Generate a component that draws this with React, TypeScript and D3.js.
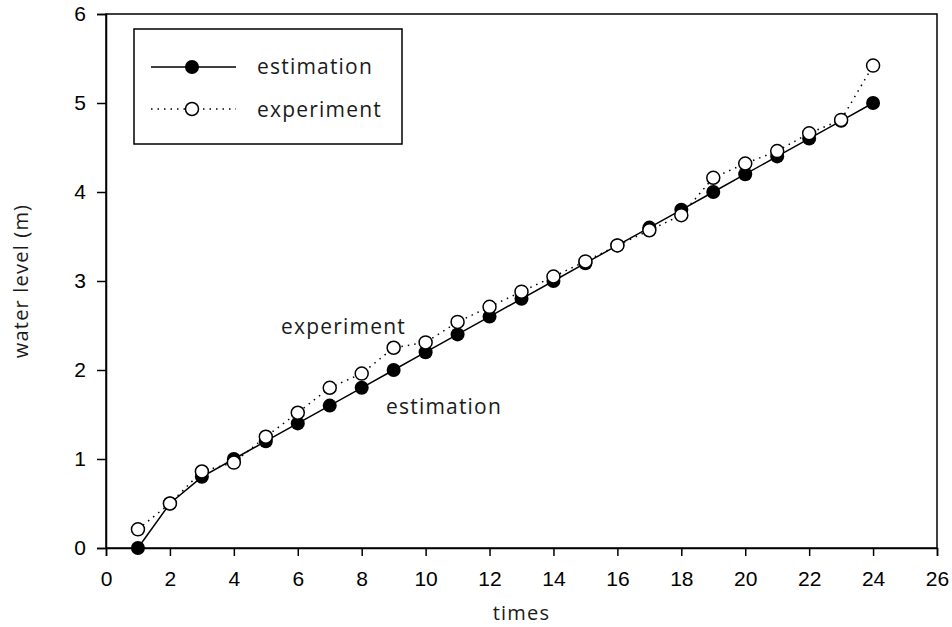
import React, { useEffect, useRef } from "react";
import * as d3 from "d3";

const times = [1, 2, 3, 4, 5, 6, 7, 8, 9, 10, 11, 12, 13, 14, 15, 16, 17, 18, 19, 20, 21, 22, 23, 24];
const estimation = [0, 0.5, 0.8, 1.0, 1.2, 1.4, 1.6, 1.8, 2.0, 2.2, 2.4, 2.6, 2.8, 3.0, 3.2, 3.4, 3.6, 3.8, 4.0, 4.2, 4.4, 4.6, 4.8, 5.0];
const experiment = [0.21, 0.5, 0.86, 0.96, 1.25, 1.52, 1.8, 1.96, 2.25, 2.31, 2.54, 2.71, 2.88, 3.05, 3.22, 3.4, 3.57, 3.74, 4.16, 4.32, 4.46, 4.66, 4.81, 5.42];
const xTicks = [0, 2, 4, 6, 8, 10, 12, 14, 16, 18, 20, 22, 24, 26];
const yTicks = [0, 1, 2, 3, 4, 5, 6];

const App = () => {
  const ref = useRef<SVGSVGElement>(null);

  useEffect(() => {
    const width = 952;
    const height = 627;
    const margin = { top: 14, right: 15, bottom: 79, left: 106 };

    const svg = d3.select(ref.current);
    svg.selectAll("*").remove();
    svg.attr("width", width).attr("height", height);

    const x = d3.scaleLinear().domain([0, 26]).range([margin.left, width - margin.right]);
    const y = d3.scaleLinear().domain([0, 6]).range([height - margin.bottom, margin.top]);

    const tickFont = "'Liberation Sans', Arial, sans-serif";
    const labelFont = "'Open Sans', 'Noto Sans', sans-serif";

    // frame
    svg.append("rect")
      .attr("x", x(0)).attr("y", y(6))
      .attr("width", x(26) - x(0)).attr("height", y(0) - y(6))
      .attr("fill", "none").attr("stroke", "#000").attr("stroke-width", 1.5);

    const xAxis = svg.append("g")
      .attr("transform", `translate(0, ${y(0)})`)
      .call(d3.axisBottom(x).tickValues(xTicks).tickSize(8).tickPadding(15).tickFormat(d3.format("d")));
    xAxis.select(".domain").attr("stroke-width", 1.5);
    xAxis.selectAll("line").attr("stroke-width", 1.5);
    xAxis.selectAll("text").attr("font-family", tickFont).attr("font-size", 21).attr("fill", "#000");

    const yAxis = svg.append("g")
      .attr("transform", `translate(${x(0)}, 0)`)
      .call(d3.axisLeft(y).tickValues(yTicks).tickSize(9).tickPadding(11).tickFormat(d3.format("d")));
    yAxis.select(".domain").attr("stroke-width", 1.5);
    yAxis.selectAll("line").attr("stroke-width", 1.5);
    yAxis.selectAll("text").attr("font-family", tickFont).attr("font-size", 21).attr("fill", "#000");

    const line = d3.line<number>().x((_, i) => x(times[i])).y(d => y(d));

    svg.append("path")
      .datum(experiment)
      .attr("d", line)
      .attr("fill", "none").attr("stroke", "#000").attr("stroke-width", 1.5)
      .attr("stroke-dasharray", "1.5,5");

    svg.append("path")
      .datum(estimation)
      .attr("d", line)
      .attr("fill", "none").attr("stroke", "#000").attr("stroke-width", 1.5);

    svg.selectAll(".est")
      .data(estimation)
      .enter()
      .append("circle")
      .attr("cx", (_, i) => x(times[i]))
      .attr("cy", d => y(d))
      .attr("r", 7)
      .attr("fill", "#000");

    svg.selectAll(".exp")
      .data(experiment)
      .enter()
      .append("circle")
      .attr("cx", (_, i) => x(times[i]))
      .attr("cy", d => y(d))
      .attr("r", 6.5)
      .attr("fill", "#fff").attr("stroke", "#000").attr("stroke-width", 1.5);

    const label = (sel: d3.Selection<SVGTextElement, unknown, null, undefined>, size: number) =>
      sel.attr("font-family", labelFont).attr("font-size", size)
        .attr("letter-spacing", 1.2).attr("fill", "#1a1a1a");

    // legend
    const lg = svg.append("g");
    lg.append("rect")
      .attr("x", 134).attr("y", 29).attr("width", 268).attr("height", 115)
      .attr("fill", "#fff").attr("stroke", "#000").attr("stroke-width", 1.5);
    lg.append("line").attr("x1", 151).attr("x2", 236).attr("y1", 67).attr("y2", 67)
      .attr("stroke", "#000").attr("stroke-width", 1.5);
    lg.append("circle").attr("cx", 192).attr("cy", 67).attr("r", 7).attr("fill", "#000");
    lg.append("line").attr("x1", 151).attr("x2", 236).attr("y1", 109).attr("y2", 109)
      .attr("stroke", "#000").attr("stroke-width", 1.5).attr("stroke-dasharray", "1.5,5");
    lg.append("circle").attr("cx", 192).attr("cy", 109).attr("r", 6.5)
      .attr("fill", "#fff").attr("stroke", "#000").attr("stroke-width", 1.5);
    label(lg.append("text").attr("x", 257).attr("y", 74).text("estimation") as any, 21);
    label(lg.append("text").attr("x", 257).attr("y", 117).text("experiment") as any, 21);

    // annotations
    label(svg.append("text").attr("x", 281).attr("y", 334).text("experiment") as any, 21);
    label(svg.append("text").attr("x", 386).attr("y", 414).text("estimation") as any, 21);

    // axis titles
    label(svg.append("text")
      .attr("x", (x(0) + x(26)) / 2).attr("y", 620)
      .attr("text-anchor", "middle")
      .text("times") as any, 20);
    label(svg.append("text")
      .attr("transform", `translate(28, ${(y(0) + y(6)) / 2}) rotate(-90)`)
      .attr("text-anchor", "middle")
      .text("water level (m)") as any, 20);
  }, []);

  return (
    <div style={{ position: "absolute", left: 0, top: 0 }}>
      <svg ref={ref}></svg>
    </div>
  );
};

export default App;
